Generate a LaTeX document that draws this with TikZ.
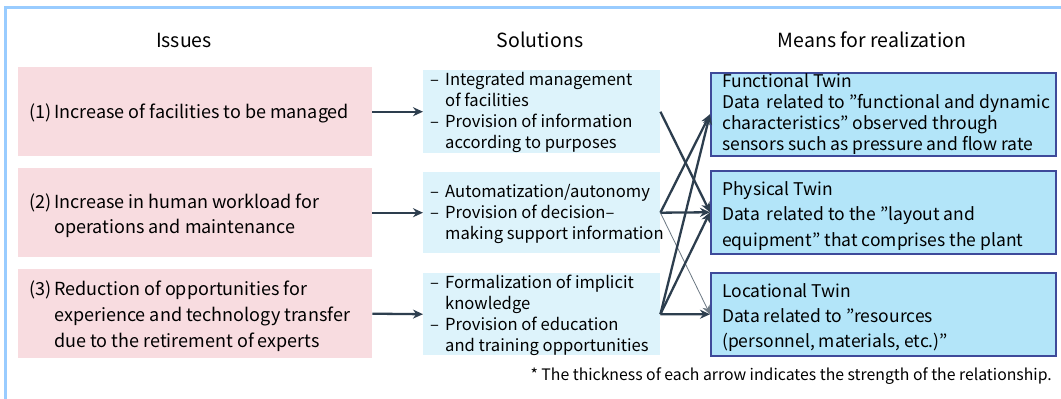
\documentclass[tikz,border=0pt]{standalone}
\usepackage{fontspec}
\setmainfont{Noto Sans CJK JP}
\usetikzlibrary{arrows.meta}
\definecolor{framec}{HTML}{99CCFF}
\definecolor{issuefill}{HTML}{F8DCE0}
\definecolor{solfill}{HTML}{DDF3FB}
\definecolor{twinfill}{HTML}{B3E5F9}
\definecolor{twindraw}{HTML}{3E4A9A}
\definecolor{arrc}{HTML}{2D3E4E}
\tikzset{
  issuebox/.style={fill=issuefill, minimum width=354pt, minimum height=89pt, inner sep=0pt, anchor=north west},
  solbox/.style={fill=solfill, minimum width=237pt, inner sep=0pt, anchor=north west},
  twinbox/.style={fill=twinfill, draw=twindraw, line width=1.5pt, minimum width=345pt, inner sep=0pt, anchor=north west},
  txt/.style={anchor=base west, inner sep=0pt, align=left, text=black},
  head/.style={anchor=base, inner sep=0pt, font=\fontsize{19.5}{22}\selectfont},
  arr/.style={draw=arrc, line width=2.3pt, -{Stealth[length=10pt,width=9pt]}},
  thinarr/.style={draw=arrc!70, line width=0.8pt, -{Stealth[length=9pt,width=8pt]}}
}
\begin{document}
\begin{tikzpicture}[x=1pt,y=-1pt]
\useasboundingbox (0,0) rectangle (1061,399);
\fill[white] (0,0) rectangle (1061,399);
\draw[framec, line width=3pt] (5,401) -- (5,7) -- (1063,7);

% headers
\node[head] (hI) at (184,47) {Issues};
\node[head] (hS) at (540,47) {Solutions};
\node[head] (hM) at (872,47) {Means for realization};

% issue boxes
\node[issuebox] (I1) at (18,67) {};
\node[issuebox] (I2) at (18,168) {};
\node[issuebox] (I3) at (18,269) {};
\node[txt] (I1t) at (29,118) {\fontsize{18}{25.5}\selectfont\begin{tabular}[t]{@{}l@{\,}l@{}}(1)&Increase of facilities to be managed\end{tabular}};
\node[txt] (I2t) at (29,208) {\fontsize{18}{25.5}\selectfont\begin{tabular}[t]{@{}l@{\,}l@{}}(2)&Increase in human workload for\\&operations and maintenance\end{tabular}};
\node[txt] (I3t) at (29,295) {\fontsize{18}{26}\selectfont\begin{tabular}[t]{@{}l@{\,}l@{}}(3)&Reduction of opportunities for\\&experience and technology transfer\\&due to the retirement of experts\end{tabular}};

% solution boxes
\node[solbox, minimum height=83pt] (S1) at (423,70) {};
\node[solbox, minimum height=81pt] (S2) at (423,172) {};
\node[solbox, minimum height=82pt] (S3) at (423,273) {};
\node[txt] (S1t) at (430,85) {\fontsize{16.6}{21}\selectfont\begin{tabular}[t]{@{}p{15pt}@{}l@{}}–&Integrated management\\&of facilities\\–&Provision of information\\&according to purposes\end{tabular}};
\node[txt] (S2t) at (430,197) {\fontsize{16.6}{21}\selectfont\begin{tabular}[t]{@{}p{15pt}@{}l@{}}–&Automatization/autonomy\\–&Provision of decision–\\&making support information\end{tabular}};
\node[txt] (S3t) at (430,288) {\fontsize{16.6}{21}\selectfont\begin{tabular}[t]{@{}p{15pt}@{}l@{}}–&Formalization of implicit\\&knowledge\\–&Provision of education\\&and training opportunities\end{tabular}};

% twin boxes
\node[twinbox, minimum height=83pt] (F) at (710,72) {};
\node[twinbox, minimum height=83pt] (P) at (710,170) {};
\node[twinbox, minimum height=83pt] (L) at (710,272) {};
\node[txt] (Ft) at (722,87) {\fontsize{17.5}{21}\selectfont\begin{tabular}[t]{@{}l@{}}Functional Twin\\Data\, related to ”functional and dynamic\\characteristics” observed through\\sensors such as pressure and flow rate\end{tabular}};
\node[txt] (Pt) at (722,195) {\fontsize{17.5}{25.5}\selectfont\begin{tabular}[t]{@{}l@{}}Physical Twin\\Data\, related to the ”layout and\\equipment” that comprises the plant\end{tabular}};
\node[txt] (Lt) at (722,297) {\fontsize{17.5}{25}\selectfont\begin{tabular}[t]{@{}l@{}}Locational Twin\\Data related to ”resources\\(personnel, materials, etc.)”\end{tabular}};

% footnote
\node[anchor=base east, inner sep=0pt, font=\fontsize{15.8}{18}\selectfont] (note) at (1052,380) {* The thickness of each arrow indicates the strength of the relationship.};

% issue -> solution
\draw[arr] (I1.east) -- (S1.west);
\draw[arr] (I2.east) -- (S2.west);
\draw[arr] (I3.east) -- (S3.west);

% solution -> twin
\draw[arr] (S1.east) -- (P.west);
\draw[arr] (S2.east) -- (F.west);
\draw[arr] (S2.east) -- (P.west);
\draw[thinarr] (S2.east) -- (L.west);
\draw[arr] (S3.east) -- (F.west);
\draw[arr] (S3.east) -- (P.west);
\draw[arr] (S3.east) -- (L.west);
\end{tikzpicture}
\end{document}
